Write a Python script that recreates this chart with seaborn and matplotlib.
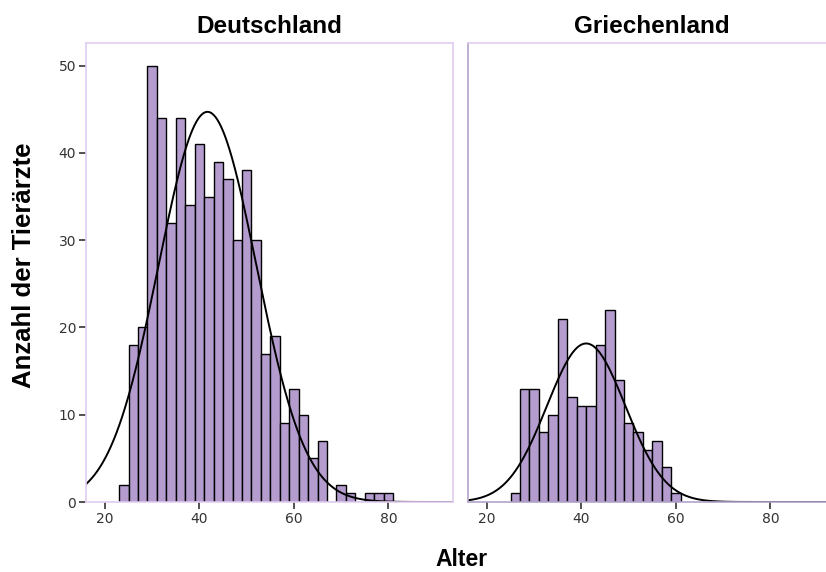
import numpy as np
import pandas as pd
import seaborn as sns
import matplotlib
matplotlib.use("Agg")
import matplotlib.pyplot as plt

# ---- data ----
de_bin_start = 23
de_counts = [2, 18, 20, 50, 44, 32, 44, 34, 41, 35, 39, 37, 30, 38, 30, 17, 19, 9, 13, 10,
             5, 7, 0, 2, 1, 0, 1, 1, 1]
gr_bin_start = 25
gr_counts = [1, 13, 13, 8, 10, 21, 12, 11, 11, 18, 22, 14, 9, 8, 6, 7, 4, 1]
bin_width = 2
de_mean, de_sd = 41.7, 10.35
gr_mean, gr_sd = 41.0, 8.3
panel_titles = ["Deutschland", "Griechenland"]
x_ticks = [20, 40, 60, 80]
y_ticks = [0, 10, 20, 30, 40, 50]

sns.set_style("white")
plt.rcParams['font.family'] = ['DejaVu Sans']

BAR = "#b49ccf"
LIGHT = "#e2cdf0"
DARK = "#b3a3c9"
TICKC = "#333333"

fig = plt.figure(figsize=(8.26, 5.72), dpi=100)
W = (453 - 86) / 826
ax1 = fig.add_axes([86 / 826, 1 - 502 / 572, W, (502 - 43) / 572])
ax2 = fig.add_axes([468 / 826, 1 - 502 / 572, W, (502 - 43) / 572])

xlim = (16.0, 93.65)
ylim = (0, 52.6)


def draw(ax, start, counts, mean, sd, title, show_y):
    n = len(counts)
    centers = start + bin_width * np.arange(n) + bin_width / 2
    df = pd.DataFrame({"Alter": centers, "n": counts})
    sns.histplot(data=df, x="Alter", weights="n", binwidth=bin_width,
                 binrange=(start, start + bin_width * n), ax=ax,
                 color=BAR, alpha=1.0, edgecolor="black", linewidth=1.0)
    total = sum(counts)
    xs = np.linspace(xlim[0], xlim[1], 400)
    ys = total * bin_width / (sd * np.sqrt(2 * np.pi)) * np.exp(-0.5 * ((xs - mean) / sd) ** 2)
    sns.lineplot(x=xs, y=ys, ax=ax, color="black", linewidth=1.4)
    ax.set_xlim(*xlim)
    ax.set_ylim(*ylim)
    ax.set_xlabel("")
    ax.set_ylabel("")
    ax.set_xticks(x_ticks)
    ax.tick_params(axis="x", length=5, width=1.2, color=TICKC, labelcolor=TICKC,
                   labelsize=10, pad=2, bottom=True)
    if show_y:
        ax.set_yticks(y_ticks)
        ax.tick_params(axis="y", length=5, width=1.2, color=TICKC, labelcolor=TICKC,
                       labelsize=10, pad=2, left=True)
    else:
        ax.set_yticks([])
    ax.set_title(title, fontsize=17.5, fontweight="bold", family="Liberation Sans",
                 color="black", pad=7)
    for s in ax.spines.values():
        s.set_linewidth(1.2)
        s.set_color(LIGHT)
    if not show_y:
        ax.spines["left"].set_color(DARK)
        ax.spines["bottom"].set_color(DARK)
        ax.spines["right"].set_visible(False)


draw(ax1, de_bin_start, de_counts, de_mean, de_sd, panel_titles[0], True)
draw(ax2, gr_bin_start, gr_counts, gr_mean, gr_sd, panel_titles[1], False)

fig.text(461 / 826, 1 - 560 / 572, "Alter", ha="center", va="center", color="black",
         fontsize=16.5, fontweight="bold", family="Liberation Sans")
fig.text(24 / 826, 1 - 265 / 572, "Anzahl der Tierärzte", ha="center", va="center",
         rotation=90, fontsize=18.5, fontweight="bold", family="Liberation Sans",
         color="black")

fig.savefig("out.png", dpi=100)
